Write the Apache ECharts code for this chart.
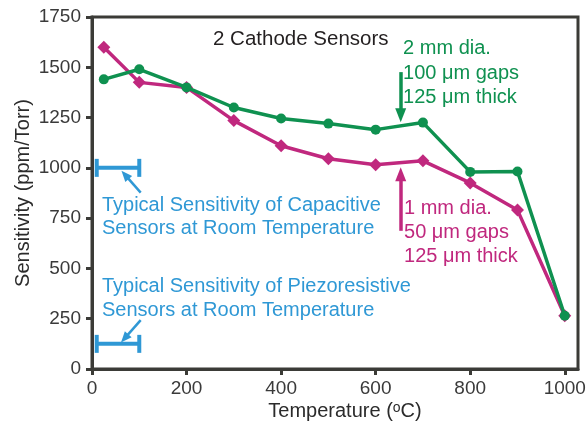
<!DOCTYPE html>
<html>
<head>
<meta charset="utf-8">
<script src="https://cdn.jsdelivr.net/npm/echarts@6/dist/echarts.min.js"></script>
<style>
  html, body { margin: 0; padding: 0; background: #ffffff; }
  #chart { width: 587px; height: 426px; }
</style>
</head>
<body>
<div id="chart"></div>
<script>
// Sensitivity (ppm/Torr) versus temperature (°C) for two sensor geometries
const temps1mm = [25, 100, 200, 300, 400, 500, 600, 700, 800, 900, 1000];
const sens1mm  = [1600, 1425, 1400, 1235, 1110, 1045, 1015, 1035, 925, 790, 265];
const temps2mm = [25, 100, 200, 300, 400, 500, 600, 700, 800, 900, 1000];
const sens2mm  = [1440, 1490, 1400, 1300, 1245, 1220, 1190, 1225, 980, 982, 265];

// Axis ticks
const xTicks = [0, 200, 400, 600, 800, 1000];
const yTicks = [0, 250, 500, 750, 1000, 1250, 1500, 1750];

// Room-temperature reference ranges: [tStart, tEnd, sensitivity]
const capacitiveRange = [10, 100, 1000];
const piezoRange = [10, 100, 125];

// Annotation arrows in data space: [from, to]
const arrow2mm = [[653, 1476], [653, 1262]];
const arrow1mm = [[653, 687], [653, 968]];
const arrowCap = [[103, 877], [70, 965]];
const arrowPiezo = [[103, 243], [69, 152]];

// Annotation texts and their anchors (data space, left edge / vertical centre)
const titleText = '2 Cathode Sensors';
const titleAnchor = [256, 1638];
const label2mm = ['2 mm dia.', '100 \u03bcm gaps', '125 \u03bcm thick'];
const label2mmAnchor = [658, 1471];
const label1mm = ['1 mm dia.', '50 \u03bcm gaps', '125 \u03bcm thick'];
const label1mmAnchor = [660, 678];
const labelCap = ['Typical Sensitivity of Capacitive', 'Sensors at Room Temperature'];
const labelCapAnchor = [21, 756];
const labelPiezo = ['Typical Sensitivity of Piezoresistive', 'Sensors at Room Temperature'];
const labelPiezoAnchor = [21, 351];

const MAGENTA = '#c0287e';
const GREEN = '#0f9150';
const BLUE = '#2f98d5';
const AXIS = '#3b3b37';
const FONT = '"Liberation Sans", Arial, Helvetica, sans-serif';

const chart = echarts.init(document.getElementById('chart'), null, { renderer: 'canvas' });

function rangeBar(params, api) {
  const y = api.value(2);
  const a = api.coord([api.value(0), y]);
  const b = api.coord([api.value(1), y]);
  const half = 9;
  const style = { stroke: BLUE, lineWidth: 4, lineCap: 'butt' };
  return {
    type: 'group',
    children: [
      { type: 'line', shape: { x1: a[0], y1: a[1], x2: b[0], y2: b[1] }, style },
      { type: 'line', shape: { x1: a[0], y1: a[1] - half, x2: a[0], y2: a[1] + half }, style },
      { type: 'line', shape: { x1: b[0], y1: b[1] - half, x2: b[0], y2: b[1] + half }, style }
    ]
  };
}

function arrowLine(pts, color, width, head) {
  return {
    silent: true,
    symbol: ['none', 'triangle'],
    symbolSize: head,
    label: { show: false },
    lineStyle: { color: color, width: width, type: 'solid' },
    emphasis: { disabled: true },
    animation: false,
    data: [[{ coord: pts[0] }, { coord: pts[1] }]]
  };
}

const plain = (v) => String(v);

const option = {
  animation: false,
  backgroundColor: '#ffffff',
  grid: {
    left: 92, right: 9, top: 17, bottom: 57,
    containLabel: false,
    outerBoundsMode: 'none',
    show: true, borderColor: AXIS, borderWidth: 3, backgroundColor: 'transparent'
  },
  xAxis: {
    type: 'value',
    min: 0, max: 1028, interval: 200,
    name: 'Temperature ({sup|o}C)',
    nameLocation: 'middle',
    nameGap: 32,
    nameMoveOverlap: false,
    nameTextStyle: {
      fontFamily: FONT, fontSize: 20, color: '#2b2b2b',
      padding: [0, 0, 0, 20],
      rich: { sup: { fontFamily: FONT, fontSize: 14, color: '#2b2b2b', verticalAlign: 'top', padding: [0, 0, 7, 0] } }
    },
    axisLine: { show: true, lineStyle: { color: AXIS, width: 3 } },
    axisTick: { show: true, customValues: xTicks, length: 6, lineStyle: { color: AXIS, width: 3 } },
    axisLabel: { customValues: xTicks, formatter: plain, margin: 10, fontFamily: FONT, fontSize: 19, color: '#3a3a3a' },
    splitLine: { show: false }
  },
  yAxis: {
    type: 'value',
    min: 0, max: 1750, interval: 250,
    name: 'Sensitivity (ppm/Torr)',
    nameLocation: 'middle',
    nameRotate: 90,
    nameGap: 59,
    nameMoveOverlap: false,
    nameTextStyle: { fontFamily: FONT, fontSize: 20, color: '#2b2b2b' },
    axisLine: { show: true, lineStyle: { color: AXIS, width: 3 } },
    axisTick: { show: true, customValues: yTicks, length: 6, lineStyle: { color: AXIS, width: 3 } },
    axisLabel: { customValues: yTicks, formatter: plain, margin: 11, fontFamily: FONT, fontSize: 19, color: '#3a3a3a' },
    splitLine: { show: false }
  },
  series: [
    {
      name: '1 mm dia.',
      type: 'line',
      data: temps1mm.map((t, i) => [t, sens1mm[i]]),
      symbol: 'diamond',
      symbolSize: 13,
      showAllSymbol: true,
      lineStyle: { color: MAGENTA, width: 3.5 },
      itemStyle: { color: MAGENTA },
      markLine: arrowLine(arrow1mm, MAGENTA, 3.5, [11, 14]),
      z: 2
    },
    {
      name: '2 mm dia.',
      type: 'line',
      data: temps2mm.map((t, i) => [t, sens2mm[i]]),
      symbol: 'circle',
      symbolSize: 10,
      showAllSymbol: true,
      lineStyle: { color: GREEN, width: 3.5 },
      itemStyle: { color: GREEN },
      markLine: arrowLine(arrow2mm, GREEN, 3.5, [11, 14]),
      z: 3
    },
    {
      name: 'reference ranges',
      type: 'custom',
      renderItem: rangeBar,
      data: [capacitiveRange, piezoRange],
      encode: { x: [0, 1], y: 2 },
      silent: true,
      z: 4
    },
    {
      name: 'reference arrows',
      type: 'line',
      data: [],
      markLine: arrowLine(arrowCap, BLUE, 2.5, [9, 11])
    },
    {
      name: 'reference arrows 2',
      type: 'line',
      data: [],
      markLine: arrowLine(arrowPiezo, BLUE, 2.5, [9, 11])
    }
  ]
};

chart.setOption(option);

// Place annotation texts from data-space anchors
function textAt(anchor, lines, color, lh, size) {
  const p = chart.convertToPixel({ gridIndex: 0 }, anchor);
  return {
    type: 'text',
    x: p[0], y: p[1],
    silent: true,
    style: {
      text: lines.join('\n'),
      fill: color,
      fontFamily: FONT,
      fontSize: size || 20,
      lineHeight: lh,
      align: 'left',
      verticalAlign: 'middle'
    },
    z: 10
  };
}

chart.setOption({
  graphic: [
    textAt(titleAnchor, [titleText], '#231f20', 22, 20.5),
    textAt(label2mmAnchor, label2mm, GREEN, 24.3),
    textAt(label1mmAnchor, label1mm, MAGENTA, 24.3),
    textAt(labelCapAnchor, labelCap, BLUE, 23.3),
    textAt(labelPiezoAnchor, labelPiezo, BLUE, 23.3)
  ]
});
</script>
</body>
</html>
